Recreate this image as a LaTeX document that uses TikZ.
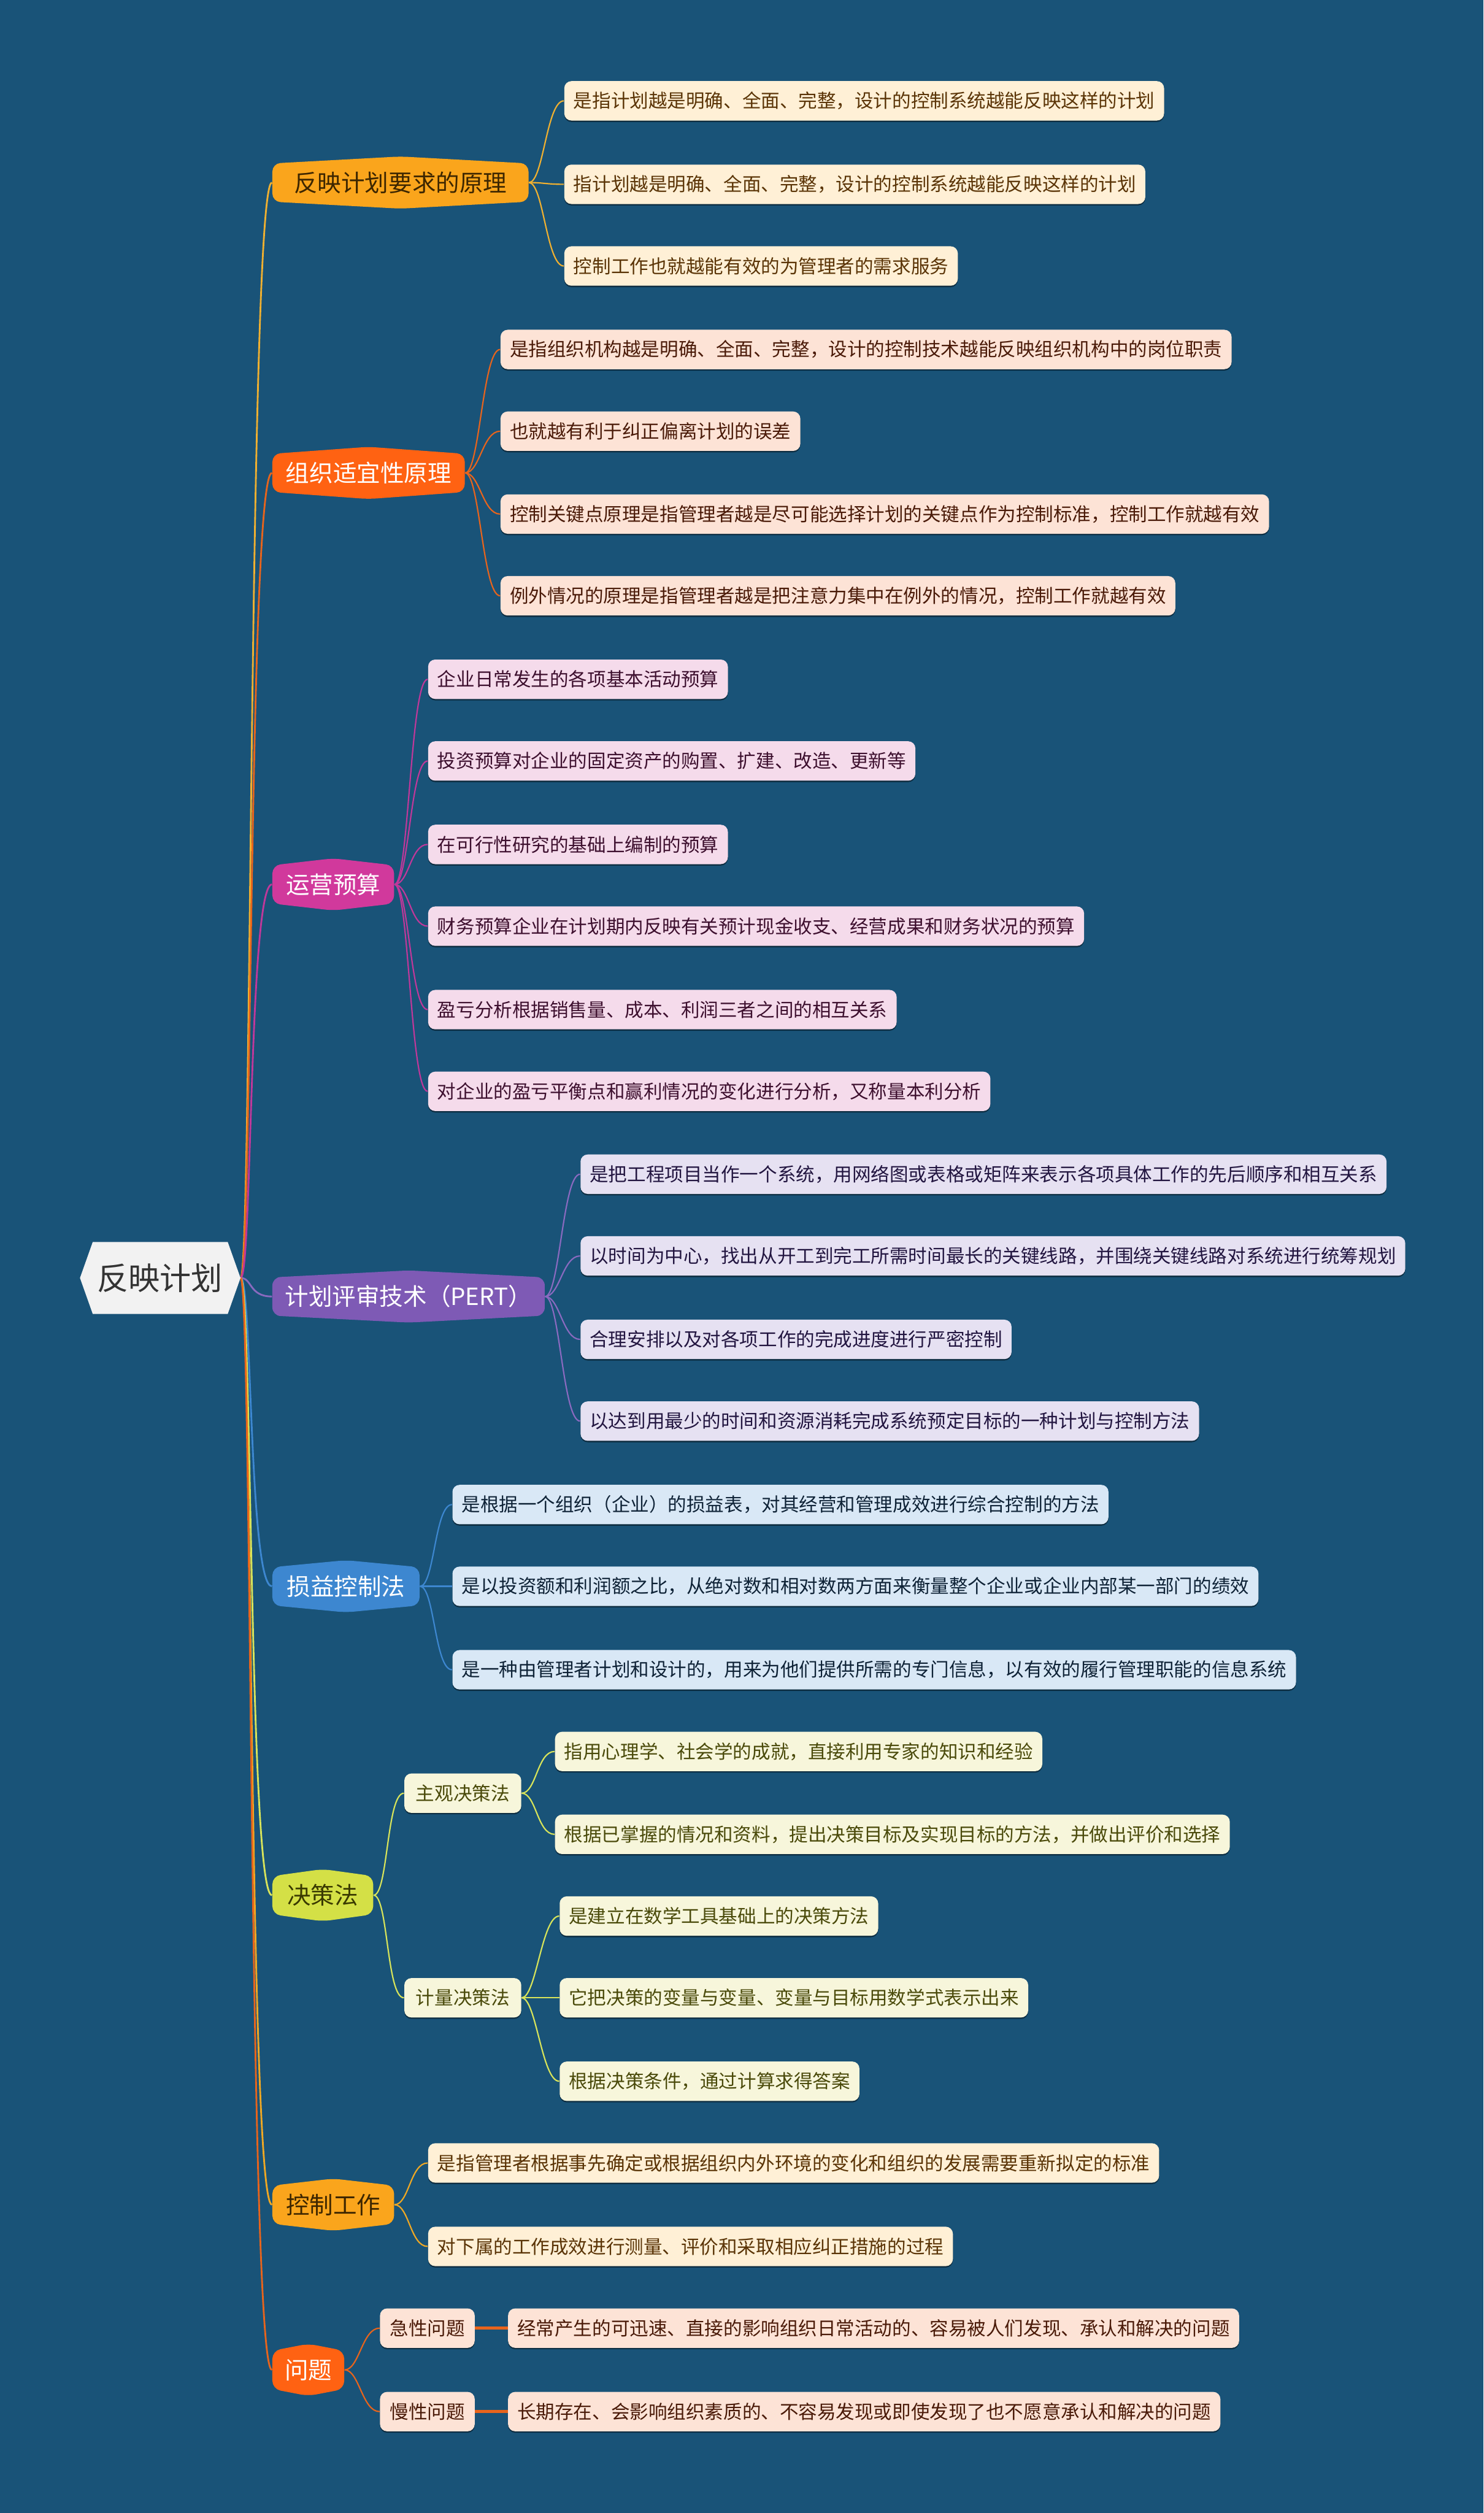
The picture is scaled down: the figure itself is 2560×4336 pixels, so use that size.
\documentclass[tikz,border=0pt]{standalone}
\usepackage{fontspec}
\setmainfont{Noto Sans CJK SC}
\usetikzlibrary{shadows}
\definecolor{bgc}{HTML}{195378}
\definecolor{rootf}{HTML}{F2F2F2}
\definecolor{roott}{HTML}{333333}
\definecolor{fA}{HTML}{FAA51C}\definecolor{tA}{HTML}{3D2600}
\definecolor{fB}{HTML}{FF6212}
\definecolor{fC}{HTML}{D1399C}
\definecolor{fD}{HTML}{7E5AB5}
\definecolor{fE}{HTML}{3D87D0}
\definecolor{fF}{HTML}{D4E046}\definecolor{tF}{HTML}{3A3A00}
\definecolor{lA}{HTML}{FFF0D6}\definecolor{ltA}{HTML}{5A3406}
\definecolor{lB}{HTML}{FDE3D6}\definecolor{ltB}{HTML}{4A1A08}
\definecolor{lC}{HTML}{F5DBEB}\definecolor{ltC}{HTML}{3D0F2E}
\definecolor{lD}{HTML}{E6E1F2}\definecolor{ltD}{HTML}{221540}
\definecolor{lE}{HTML}{D9E8F6}\definecolor{ltE}{HTML}{0E2236}
\definecolor{lF}{HTML}{F7F6DB}\definecolor{ltF}{HTML}{4A4A0A}
\definecolor{kA}{HTML}{F0B030}
\definecolor{kB}{HTML}{E8641C}
\definecolor{kC}{HTML}{C0389A}
\definecolor{kD}{HTML}{8A6AC0}
\definecolor{kE}{HTML}{3D87D0}
\definecolor{kF}{HTML}{D8E45A}
\definecolor{kG}{HTML}{F0A823}
\pgfdeclarelayer{back}\pgfdeclarelayer{lines}
\pgfsetlayers{back,lines,main}
\tikzset{
  mainlbl/.style={inner sep=0pt, minimum height=0.9cm, font=\fontsize{11.6pt}{14pt}\selectfont},
  leaf/.style={rounded corners=3.5pt, anchor=west, inner xsep=0.16cm, inner ysep=0pt,
     minimum height=0.68cm, font=\fontsize{9.2pt}{11pt}\selectfont,
     drop shadow={shadow xshift=0pt, shadow yshift=-0.7pt, opacity=0.45, fill=black}},
  subnode/.style={leaf, inner xsep=0.2cm},
  link/.style={line width=0.85pt},
  sublink/.style={line width=0.65pt},
}
% #1 name, #2 cx, #3 cy, #4 half width, #5 fill, #6 text colour, #7 text
\newcommand\mainhex[7]{%
  \fill[#5, rounded corners=4pt] ({#2-#4},{#3-33}) -- (#2,{#3-45}) -- ({#2+#4},{#3-33})
     -- ({#2+#4},{#3+33}) -- (#2,{#3+45}) -- ({#2-#4},{#3+33}) -- cycle;
  \node[mainlbl, text=#6, minimum width={2*#4*0.01cm}] (#1) at (#2,#3) {#7};
}
\begin{document}
\begin{tikzpicture}[x=0.01cm,y=-0.01cm]
\begin{pgfonlayer}{back}
\fill[bgc] (0,0) rectangle (2560,4336);
\end{pgfonlayer}
\useasboundingbox (0,0) rectangle (2560,4336);

% root
\fill[rootf] (138,2205) -- (160,2143) -- (393,2143) -- (415,2205) -- (393,2267) -- (160,2267) -- cycle;
\node[inner sep=0pt, minimum width=2.77cm, minimum height=1.24cm, text=roott,
      font=\fontsize{15.4pt}{18pt}\selectfont] (root) at (276,2205) {反映计划};

% main branches
\mainhex{b1}{691}{315}{221}{fA}{tA}{反映计划要求的原理}
\mainhex{b2}{636}{816}{166}{fB}{white}{组织适宜性原理}
\mainhex{b3}{575}{1526}{105}{fC}{white}{运营预算}
\mainhex{b4}{705}{2237}{235}{fD}{white}{计划评审技术（PERT）}
\mainhex{b5}{597}{2737}{127}{fE}{white}{损益控制法}
\mainhex{b6}{557}{3270}{87}{fF}{tF}{决策法}
\mainhex{b7}{575}{3804}{105}{fA}{tA}{控制工作}
\mainhex{b8}{532}{4089}{62}{fB}{white}{问题}

% leaves branch 1
\node[leaf, fill=lA, text=ltA] (l11) at (973,174) {是指计划越是明确、全面、完整，设计的控制系统越能反映这样的计划};
\node[leaf, fill=lA, text=ltA] (l12) at (973,318) {指计划越是明确、全面、完整，设计的控制系统越能反映这样的计划};
\node[leaf, fill=lA, text=ltA] (l13) at (973,459) {控制工作也就越能有效的为管理者的需求服务};
% branch 2
\node[leaf, fill=lB, text=ltB] (l21) at (863,603) {是指组织机构越是明确、全面、完整，设计的控制技术越能反映组织机构中的岗位职责};
\node[leaf, fill=lB, text=ltB] (l22) at (863,744) {也就越有利于纠正偏离计划的误差};
\node[leaf, fill=lB, text=ltB] (l23) at (863,887) {控制关键点原理是指管理者越是尽可能选择计划的关键点作为控制标准，控制工作就越有效};
\node[leaf, fill=lB, text=ltB] (l24) at (863,1028) {例外情况的原理是指管理者越是把注意力集中在例外的情况，控制工作就越有效};
% branch 3
\node[leaf, fill=lC, text=ltC] (l31) at (738,1172) {企业日常发生的各项基本活动预算};
\node[leaf, fill=lC, text=ltC] (l32) at (738,1313) {投资预算对企业的固定资产的购置、扩建、改造、更新等};
\node[leaf, fill=lC, text=ltC] (l33) at (738,1457) {在可行性研究的基础上编制的预算};
\node[leaf, fill=lC, text=ltC] (l34) at (738,1598) {财务预算企业在计划期内反映有关预计现金收支、经营成果和财务状况的预算};
\node[leaf, fill=lC, text=ltC] (l35) at (738,1742) {盈亏分析根据销售量、成本、利润三者之间的相互关系};
\node[leaf, fill=lC, text=ltC] (l36) at (738,1883) {对企业的盈亏平衡点和赢利情况的变化进行分析，又称量本利分析};
% branch 4
\node[leaf, fill=lD, text=ltD] (l41) at (1001,2026) {是把工程项目当作一个系统，用网络图或表格或矩阵来表示各项具体工作的先后顺序和相互关系};
\node[leaf, fill=lD, text=ltD] (l42) at (1001,2167) {以时间为中心，找出从开工到完工所需时间最长的关键线路，并围绕关键线路对系统进行统筹规划};
\node[leaf, fill=lD, text=ltD] (l43) at (1001,2311) {合理安排以及对各项工作的完成进度进行严密控制};
\node[leaf, fill=lD, text=ltD] (l44) at (1001,2452) {以达到用最少的时间和资源消耗完成系统预定目标的一种计划与控制方法};
% branch 5
\node[leaf, fill=lE, text=ltE] (l51) at (780,2596) {是根据一个组织（企业）的损益表，对其经营和管理成效进行综合控制的方法};
\node[leaf, fill=lE, text=ltE] (l52) at (780,2737) {是以投资额和利润额之比，从绝对数和相对数两方面来衡量整个企业或企业内部某一部门的绩效};
\node[leaf, fill=lE, text=ltE] (l53) at (780,2881) {是一种由管理者计划和设计的，用来为他们提供所需的专门信息，以有效的履行管理职能的信息系统};
% branch 6
\node[subnode, fill=lF, text=ltF] (s61) at (697,3094) {主观决策法};
\node[subnode, fill=lF, text=ltF] (s62) at (697,3447) {计量决策法};
\node[leaf, fill=lF, text=ltF] (l611) at (957,3022) {指用心理学、社会学的成就，直接利用专家的知识和经验};
\node[leaf, fill=lF, text=ltF] (l612) at (957,3165) {根据已掌握的情况和资料，提出决策目标及实现目标的方法，并做出评价和选择};
\node[leaf, fill=lF, text=ltF] (l621) at (965,3306) {是建立在数学工具基础上的决策方法};
\node[leaf, fill=lF, text=ltF] (l622) at (965,3447) {它把决策的变量与变量、变量与目标用数学式表示出来};
\node[leaf, fill=lF, text=ltF] (l623) at (965,3591) {根据决策条件，通过计算求得答案};
% branch 7
\node[leaf, fill=lA, text=ltA] (l71) at (738,3732) {是指管理者根据事先确定或根据组织内外环境的变化和组织的发展需要重新拟定的标准};
\node[leaf, fill=lA, text=ltA] (l72) at (738,3876) {对下属的工作成效进行测量、评价和采取相应纠正措施的过程};
% branch 8
\node[subnode, fill=lB, text=ltB, inner xsep=0.17cm] (s81) at (655,4017) {急性问题};
\node[subnode, fill=lB, text=ltB, inner xsep=0.17cm] (s82) at (655,4161) {慢性问题};
\node[leaf, fill=lB, text=ltB] (l81) at (876,4017) {经常产生的可迅速、直接的影响组织日常活动的、容易被人们发现、承认和解决的问题};
\node[leaf, fill=lB, text=ltB] (l82) at (876,4161) {长期存在、会影响组织素质的、不容易发现或即使发现了也不愿意承认和解决的问题};

\begin{pgfonlayer}{lines}
% root links
\draw[link, kA] (root.east) .. controls +(20,0) and +(-40,0) .. (b1.west);
\draw[link, kB] (root.east) .. controls +(20,0) and +(-40,0) .. (b2.west);
\draw[link, kC] (root.east) .. controls +(20,0) and +(-40,0) .. (b3.west);
\draw[link, kD] (root.east) .. controls +(20,0) and +(-40,0) .. (b4.west);
\draw[link, kE] (root.east) .. controls +(20,0) and +(-40,0) .. (b5.west);
\draw[link, kF] (root.east) .. controls +(20,0) and +(-40,0) .. (b6.west);
\draw[link, kG] (root.east) .. controls +(20,0) and +(-40,0) .. (b7.west);
\draw[link, kB] (root.east) .. controls +(20,0) and +(-40,0) .. (b8.west);
% branch links
\foreach \l in {l11,l12,l13}
  \draw[sublink, kA] (b1.east) .. controls +(25,0) and +(-30,0) .. (\l.west);
\foreach \l in {l21,l22,l23,l24}
  \draw[sublink, kB] (b2.east) .. controls +(25,0) and +(-30,0) .. (\l.west);
\foreach \l in {l31,l32,l33,l34,l35,l36}
  \draw[sublink, kC] (b3.east) .. controls +(25,0) and +(-30,0) .. (\l.west);
\foreach \l in {l41,l42,l43,l44}
  \draw[sublink, kD] (b4.east) .. controls +(25,0) and +(-30,0) .. (\l.west);
\foreach \l in {l51,l52,l53}
  \draw[sublink, kE] (b5.east) .. controls +(25,0) and +(-30,0) .. (\l.west);
\foreach \l in {s61,s62}
  \draw[sublink, kF] (b6.east) .. controls +(25,0) and +(-30,0) .. (\l.west);
\foreach \l in {l611,l612}
  \draw[sublink, kF] (s61.east) .. controls +(25,0) and +(-30,0) .. (\l.west);
\foreach \l in {l621,l622,l623}
  \draw[sublink, kF] (s62.east) .. controls +(25,0) and +(-30,0) .. (\l.west);
\foreach \l in {l71,l72}
  \draw[sublink, kG] (b7.east) .. controls +(25,0) and +(-30,0) .. (\l.west);
\foreach \l in {s81,s82}
  \draw[sublink, kB] (b8.east) .. controls +(25,0) and +(-30,0) .. (\l.west);
\draw[line width=1.4pt, kB] (s81.east) -- (l81.west);
\draw[line width=1.4pt, kB] (s82.east) -- (l82.west);
\end{pgfonlayer}
\end{tikzpicture}
\end{document}
